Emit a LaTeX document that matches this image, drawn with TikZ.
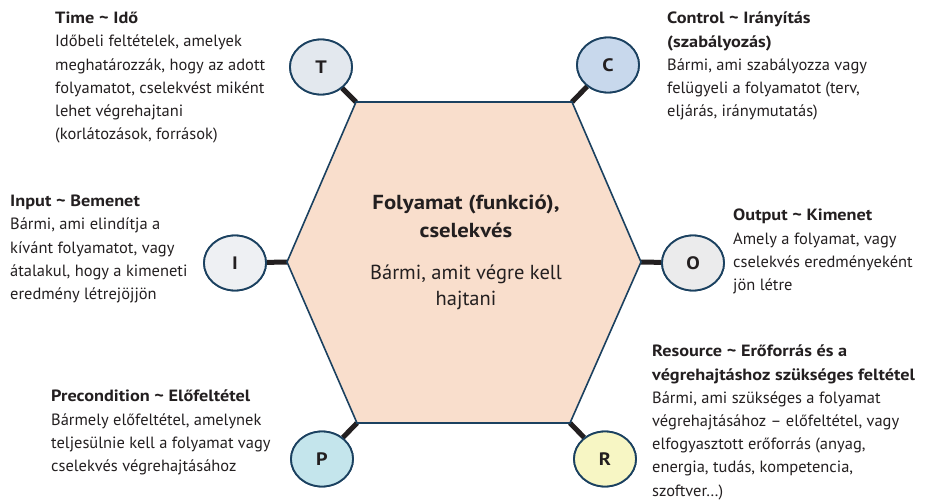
\documentclass[tikz,border=0pt]{standalone}
\usepackage{fontspec}
\setmainfont{PT Sans}[UprightFeatures={FakeStretch=1.01},BoldFeatures={FakeStretch=1.12}]
\usetikzlibrary{shapes.geometric}
\definecolor{navy}{HTML}{1B4160}
\definecolor{ink}{HTML}{231F20}
\definecolor{hexfill}{HTML}{F9DECC}
\definecolor{tfill}{HTML}{E3E8EE}
\definecolor{cfill}{HTML}{C8D8EC}
\definecolor{ifill}{HTML}{EEF0F3}
\definecolor{ofill}{HTML}{EBEBEC}
\definecolor{pfill}{HTML}{C4E5EC}
\definecolor{rfill}{HTML}{F7F6C4}
\begin{document}
\begin{tikzpicture}[x=1pt,y=-1pt,
  letter/.style={ellipse,draw=navy,line width=1.8pt,minimum width=62pt,minimum height=55pt,inner sep=0pt,
    font=\fontsize{18}{20}\selectfont\bfseries,text=ink},
  conn/.style={line width=5pt,draw=ink},
  desc/.style={anchor=north west,inner sep=0pt,align=left,text=ink,font=\fontsize{16.3}{23.2}\selectfont},
  center/.style={inner sep=0pt,align=center,text=ink}]
\useasboundingbox (0,0) rectangle (929,500);
% hexagon vertices
\coordinate (hl) at (287,262);
\coordinate (htl) at (356,102);
\coordinate (htr) at (572,102);
\coordinate (hr) at (641,262);
\coordinate (hbr) at (570,423);
\coordinate (hbl) at (357,423);
% letter nodes
\node[letter,fill=tfill] (T) at (321,67) {T};
\node[letter,fill=cfill] (C) at (608,65) {C};
\node[letter,fill=ifill] (I) at (235,263) {I};
\node[letter,fill=ofill] (O) at (693,263) {O};
\node[letter,fill=pfill] (P) at (322,459) {P};
\node[letter,fill=rfill] (R) at (605,459) {R};
% connectors
\draw[conn] (htl) -- (T);
\draw[conn] (htr) -- (C);
\draw[conn] (hl) -- (I);
\draw[conn] (hr) -- (O);
\draw[conn] (hbl) -- (P);
\draw[conn] (hbr) -- (R);
% hexagon
\draw[fill=hexfill,draw=navy,line width=1.6pt,line join=miter] (hl) -- (htl) -- (htr) -- (hr) -- (hbr) -- (hbl) -- cycle;
% redraw letters on top
\node[letter,fill=tfill] at (T) {T};
\node[letter,fill=cfill] at (C) {C};
\node[letter,fill=ifill] at (I) {I};
\node[letter,fill=ofill] at (O) {O};
\node[letter,fill=pfill] at (P) {P};
\node[letter,fill=rfill] at (R) {R};
% center text
\node[center,font=\fontsize{20.3}{28}\selectfont\bfseries] (ct) at (466,216) {Folyamat (funkció),\\cselekvés};
\node[center,font=\fontsize{20.3}{26}\selectfont] (cd) at (466,287) {Bármi, amit végre kell\\hajtani};
% descriptions
\node[desc] (tT) at (55,12) {\textbf{Time \textasciitilde{} Idő}\\Időbeli feltételek, amelyek\\meghatározzák, hogy az adott\\folyamatot, cselekvést miként\\lehet végrehajtani\\(korlátozások, források)};
\node[desc] (tC) at (667,12) {\textbf{Control \textasciitilde{} Irányítás}\\\textbf{(szabályozás)}\\Bármi, ami szabályozza vagy\\felügyeli a folyamatot (terv,\\eljárás, iránymutatás)};
\node[desc] (tI) at (10,195) {\textbf{Input \textasciitilde{} Bemenet}\\Bármi, ami elindítja a\\kívánt folyamatot, vagy\\átalakul, hogy a kimeneti\\eredmény létrejöjjön};
\node[desc] (tO) at (733,209) {\textbf{Output \textasciitilde{} Kimenet}\\Amely a folyamat, vagy\\cselekvés eredményeként\\jön létre};
\node[desc] (tP) at (51,390) {\textbf{Precondition \textasciitilde{} Előfeltétel}\\Bármely előfeltétel, amelynek\\teljesülnie kell a folyamat vagy\\cselekvés végrehajtásához};
\node[desc] (tR) at (652,345) {\textbf{Resource \textasciitilde{} Erőforrás és a}\\\textbf{végrehajtáshoz szükséges feltétel}\\Bármi, ami szükséges a folyamat\\végrehajtásához – előfeltétel, vagy\\elfogyasztott erőforrás (anyag,\\energia, tudás, kompetencia,\\szoftver…)};
\end{tikzpicture}
\end{document}
